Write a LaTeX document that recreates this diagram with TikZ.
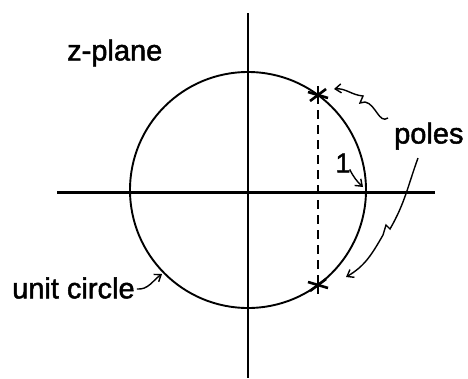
\documentclass[tikz,border=0pt]{standalone}
\usepackage{fontspec}
\setmainfont{Liberation Sans}
\newfontfamily\scanfont[FakeBold=1.6]{Liberation Sans}
\usetikzlibrary{arrows.meta,calc}
\begin{document}
\begin{tikzpicture}[x=1pt,y=-1pt,
  lbl/.style={inner sep=0pt,font=\scanfont\fontsize{29}{32}\selectfont},
  axis/.style={line width=3pt},
  ring/.style={line width=1.9pt},
  pointer/.style={line width=1.4pt,-{Straight Barb[length=6pt,width=9pt]}},
  polemark/.style={line width=2.6pt}]
\useasboundingbox (0,0) rectangle (468,378);
\fill[white] (0,0) rectangle (468,378);
% axes
\coordinate (xl) at (57,192);
\coordinate (xr) at (435,192);
\coordinate (yt) at (248,13);
\coordinate (yb) at (248,378);
\draw[axis] (xl) -- (xr);
\draw[line width=2.4pt] (yt) -- (yb);
% unit circle
\coordinate (c0) at (248,190);
\draw[ring] (c0) circle[radius=118];
% poles
\coordinate (p1) at (318,95);
\coordinate (p2) at (318,285);
\draw[dashed,line width=1.8pt,dash pattern=on 9pt off 6pt] (p1) -- (p2);
\foreach \p in {p1,p2}{
  \draw[polemark] ($(\p)+(-10,-3)$) -- ($(\p)+(10,3)$);
  \draw[polemark] ($(\p)+(-8,6)$) -- ($(\p)+(8,-6)$);
  \draw[polemark] ($(\p)+(0,-9)$) -- ($(\p)+(0,9)$);
}
% labels
\node[lbl,anchor=west] (zp) at (67,53) {z-plane};
\node[lbl,anchor=west] (po) at (394,136) {poles};
\node[lbl,anchor=west] (uc) at (12,288) {unit circle};
\node[inner sep=0pt,font=\scanfont\fontsize{27}{30}\selectfont] (one) at (343,163) {1};
% arrows
\coordinate (r1) at (363,187);
\draw[pointer] (one.south east) ++(-1,-3) to[bend right=10] (r1);
\coordinate (ua) at (162,274);
\draw[pointer] (uc.east) ++(2,1) to[out=-5,in=215] (ua);
\coordinate (pa1) at (334,89);
\draw[pointer] (388,118) to[out=215,in=-10] (365,102) -- (360,103) -- (363,96)
   to[out=175,in=5] (pa1);
\coordinate (pa2) at (346,277);
\draw[pointer] (418,158) to[out=-110,in=60] (390,229) -- (386,225) -- (383,235)
   to[out=240,in=30] (pa2);
\end{tikzpicture}
\end{document}
